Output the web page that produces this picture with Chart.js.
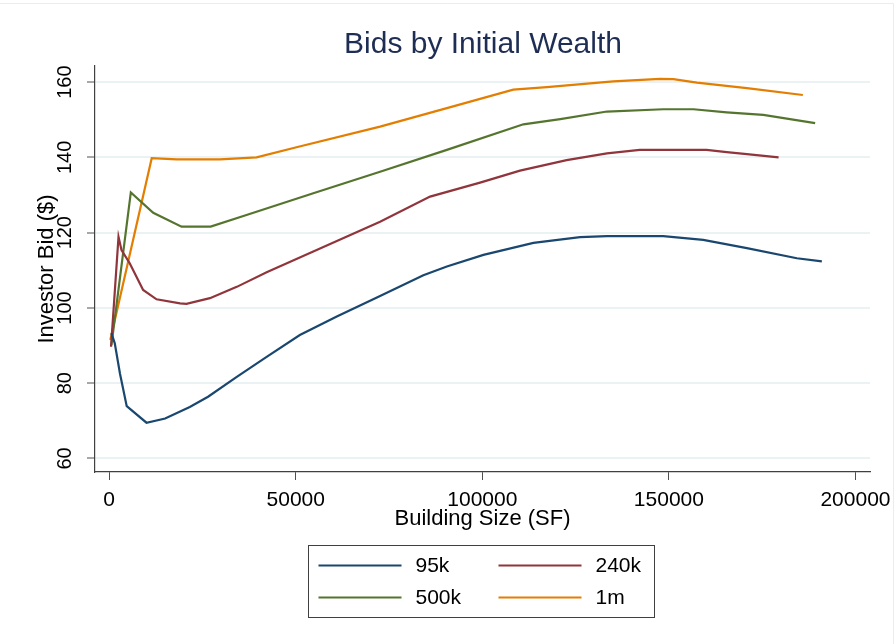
<!DOCTYPE html>
<html>
<head>
<meta charset="utf-8">
<script src="https://cdn.jsdelivr.net/npm/chart.js@4.4.1/dist/chart.umd.min.js"></script>
<style>
  html, body { margin: 0; padding: 0; background: #ffffff; }
  #wrap { width: 896px; height: 644px; }
</style>
</head>
<body>
<div id="wrap"><canvas id="c" width="896" height="644"></canvas></div>
<script>
// ---- data ----
const chartTitle = "Bids by Initial Wealth";
const xTitle = "Building Size (SF)";
const yTitle = "Investor Bid ($)";
const xTicks = [0, 50000, 100000, 150000, 200000];
const yTicks = [60, 80, 100, 120, 140, 160];
const seriesLabels = ["95k", "240k", "500k", "1m"];

const x95k = [600, 1500, 2900, 4700, 10000, 15000, 21600, 26500, 34200, 42200, 51100, 61000, 72600, 84200, 90500, 100300, 113700, 126200, 133400, 148500, 159200, 170900, 184300, 191000];
const y95k = [93.3, 90.6, 82.5, 73.9, 69.5, 70.6, 73.7, 76.4, 81.7, 87.0, 92.8, 97.7, 103.2, 108.7, 111.0, 114.1, 117.3, 118.8, 119.1, 119.1, 118.1, 115.9, 113.2, 112.4];

const x240k = [500, 2500, 3300, 5500, 9100, 12700, 19000, 20700, 27000, 34200, 42200, 54700, 72600, 86000, 99400, 110100, 122600, 133400, 142200, 160100, 165500, 170900, 179400];
const y240k = [89.7, 118.9, 115.4, 111.9, 104.8, 102.3, 101.2, 101.1, 102.6, 105.6, 109.5, 115.0, 122.9, 129.6, 133.3, 136.5, 139.3, 141.1, 142.0, 142.0, 141.4, 140.9, 140.0];

const x500k = [600, 5800, 11800, 19400, 27200, 36800, 54700, 72600, 90500, 111000, 120900, 133400, 148500, 156600, 165500, 175300, 189200];
const y500k = [90.1, 130.7, 125.3, 121.6, 121.6, 124.7, 130.5, 136.2, 142.0, 148.8, 150.2, 152.2, 152.8, 152.8, 152.0, 151.3, 149.1];

const x1m = [300, 11400, 18100, 29700, 39500, 50200, 72600, 90500, 108300, 117300, 135100, 147600, 151200, 157500, 170900, 185900];
const y1m = [91.5, 139.8, 139.5, 139.5, 140.0, 142.7, 148.2, 153.1, 158.0, 158.7, 160.2, 160.9, 160.8, 159.9, 158.4, 156.6];

const colors = ["#1a476f", "#90353b", "#55752f", "#e37e00"];

// ---- build ----
function pts(xs, ys) { return xs.map((x, i) => ({ x: x, y: ys[i] })); }
const allX = [x95k, x240k, x500k, x1m];
const allY = [y95k, y240k, y500k, y1m];

const datasets = seriesLabels.map((lab, i) => ({
  label: lab,
  data: pts(allX[i], allY[i]),
  borderColor: colors[i],
  backgroundColor: colors[i],
  borderWidth: 2.2,
  pointRadius: 0,
  tension: 0,
  fill: false
}));

const FONT = "'Liberation Sans', Arial, sans-serif";

const framePlugin = {
  id: 'stataFrame',
  beforeDraw(chart) {
    const ctx = chart.ctx;
    ctx.save();
    ctx.strokeStyle = "#e6eef0";
    ctx.lineWidth = 1;
    ctx.beginPath();
    ctx.moveTo(0, 3.5);
    ctx.lineTo(893.5, 3.5);
    ctx.lineTo(893.5, 644);
    ctx.stroke();
    ctx.restore();
  }
};

const titlePlugin = {
  id: 'stataTitle',
  afterDraw(chart) {
    const ctx = chart.ctx, a = chart.chartArea;
    ctx.save();
    ctx.font = "30px " + FONT;
    ctx.fillStyle = "#1e2d53";
    ctx.textAlign = "center";
    ctx.textBaseline = "alphabetic";
    ctx.fillText(chartTitle, 483, 53);
    ctx.restore();
  }
};

const legendPlugin = {
  id: 'stataLegend',
  afterDraw(chart) {
    const ctx = chart.ctx;
    const bw = 346, bh = 72;
    const bx = 308.5, by = 545.5;
    ctx.save();
    ctx.strokeStyle = "#404040";
    ctx.lineWidth = 1;
    ctx.fillStyle = "#ffffff";
    ctx.fillRect(bx, by, bw, bh);
    ctx.strokeRect(bx, by, bw, bh);
    ctx.font = "21px " + FONT;
    ctx.textBaseline = "middle";
    ctx.textAlign = "left";
    const ds = chart.data.datasets;
    ds.forEach((d, i) => {
      const col = i % 2, row = Math.floor(i / 2);
      const ly = by + 20 + row * 32;
      const lx0 = bx + 10 + col * 180;
      ctx.strokeStyle = d.borderColor;
      ctx.lineWidth = 2.2;
      ctx.beginPath();
      ctx.moveTo(lx0, ly);
      ctx.lineTo(lx0 + 83, ly);
      ctx.stroke();
      ctx.fillStyle = "#000000";
      ctx.fillText(d.label, lx0 + 97, ly + 1);
    });
    ctx.restore();
  }
};

new Chart(document.getElementById('c'), {
  type: 'line',
  data: { datasets: datasets },
  options: {
    responsive: false,
    animation: false,
    parsing: true,
    layout: { padding: { left: 0, top: 66, right: 26, bottom: 110 } },
    plugins: {
      legend: { display: false },
      title: { display: false },
      tooltip: { enabled: false }
    },
    scales: {
      x: {
        type: 'linear',
        min: -3800,
        max: 203900,
        afterBuildTicks(s) { s.ticks = xTicks.map(v => ({ value: v })); },
        afterFit(s) { s.height = 62; s.paddingLeft = 0; s.paddingRight = 0; },
        grid: {
          drawOnChartArea: false,
          drawTicks: true,
          tickLength: 8,
          tickColor: '#505050',
          tickWidth: 1
        },
        border: { display: true, color: '#404040', width: 1.2 },
        ticks: {
          font: { family: FONT, size: 21 },
          color: '#000000',
          padding: 8,
          maxRotation: 0,
          autoSkip: false,
          callback: v => String(v)
        },
        title: {
          display: true,
          text: xTitle,
          font: { family: FONT, size: 22 },
          color: '#000000',
          padding: { top: 0, bottom: 2 }
        }
      },
      y: {
        type: 'linear',
        min: 56.4,
        max: 164.3,
        afterBuildTicks(s) { s.ticks = yTicks.map(v => ({ value: v })); },
        afterFit(s) { s.width = 95; s.paddingTop = 0; s.paddingBottom = 0; },
        grid: {
          drawOnChartArea: true,
          color: '#eaf2f3',
          lineWidth: 2,
          drawTicks: true,
          tickLength: 8,
          tickColor: '#505050',
          tickWidth: 1
        },
        border: { display: true, color: '#404040', width: 1.2 },
        ticks: {
          font: { family: FONT, size: 20 },
          color: '#000000',
          padding: 5,
          minRotation: 90,
          maxRotation: 90,
          crossAlign: 'center',
          autoSkip: false,
          callback: v => String(v)
        },
        title: {
          display: true,
          text: yTitle,
          font: { family: FONT, size: 22 },
          color: '#000000',
          padding: { top: 34, bottom: 0 }
        }
      }
    }
  },
  plugins: [framePlugin, titlePlugin, legendPlugin]
});
</script>
</body>
</html>
